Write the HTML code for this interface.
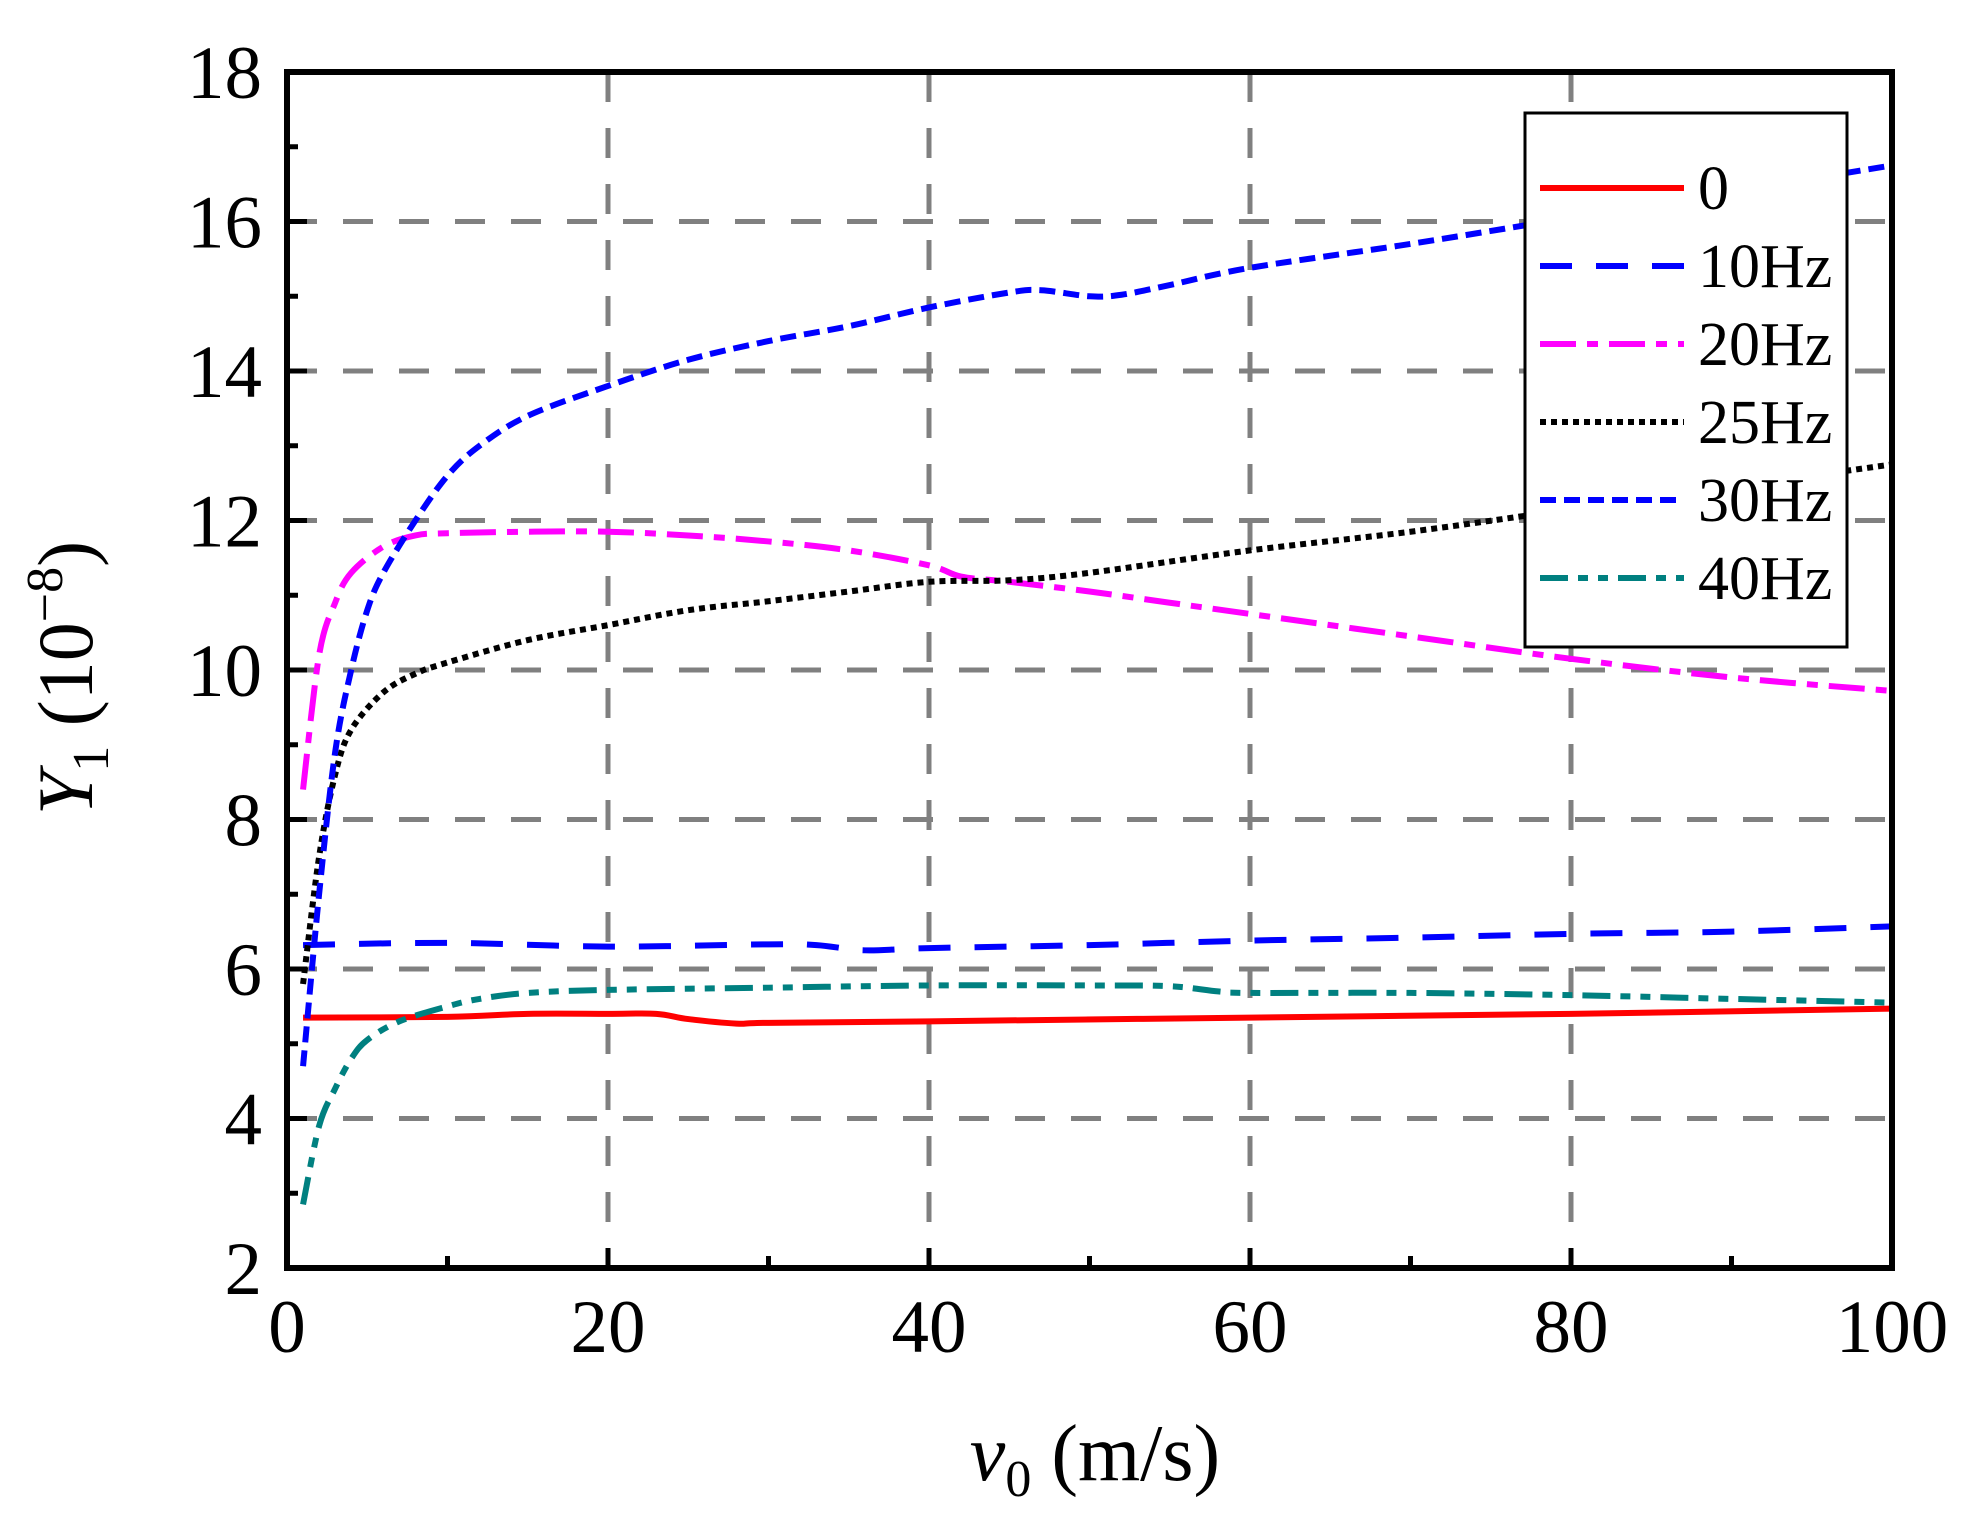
<!DOCTYPE html>
<html><head><meta charset="utf-8"><style>
body{margin:0;background:#fff}
svg text{font-family:"Liberation Serif",serif;fill:#000}
</style></head><body>
<svg id="c" width="1980" height="1510" xmlns="http://www.w3.org/2000/svg">
<g id="grid"></g>
<g id="series"></g>
<rect x="287" y="72" width="1605" height="1196" fill="none" stroke="#000" stroke-width="6"/>
<g id="ticks"></g>
<text x="1095" y="1480" font-size="80" text-anchor="middle"><tspan font-style="italic">v</tspan><tspan font-size="52" dy="16">0</tspan><tspan dy="-16">  (m/s)</tspan></text>
<text transform="translate(92,678) rotate(-90)" font-size="78" text-anchor="middle"><tspan font-style="italic">Y</tspan><tspan font-size="52" dy="16">1</tspan><tspan dy="-16"> (10</tspan><tspan font-size="52" dy="-30">−8</tspan><tspan dy="30">)</tspan></text>
<g>
<rect x="1525" y="113" width="322" height="534" fill="#fff" stroke="#000" stroke-width="3"/>
<g id="legend"></g>
</g>
</svg>
<script>
const xs0=[1,10,15,20,23,25,28,30,40,60,80,100];
const ys0=[5.35,5.36,5.4,5.4,5.4,5.33,5.27,5.28,5.3,5.35,5.4,5.47];
const xs10=[1,10,20,30,33,36,40,50,60,70,80,90,100];
const ys10=[6.32,6.35,6.3,6.33,6.32,6.25,6.28,6.32,6.38,6.42,6.47,6.5,6.57];
const xs20=[1,2,3,4,6,8,10,15,20,25,30,35,40,42,45,50,55,60,70,80,90,100];
const ys20=[8.4,10.2,10.9,11.3,11.65,11.8,11.83,11.85,11.85,11.8,11.72,11.6,11.4,11.25,11.18,11.05,10.9,10.75,10.45,10.15,9.9,9.72];
const xs25=[1,2,3,4,6,8,10,15,20,25,30,35,40,45,50,60,70,80,90,100];
const ys25=[5.8,7.5,8.6,9.2,9.7,9.95,10.1,10.4,10.6,10.8,10.92,11.05,11.18,11.2,11.3,11.6,11.85,12.15,12.45,12.75];
const xs30=[1,2,3,4,5,6,8,10,12,15,20,25,30,35,40,45,47,50,52,55,60,70,80,90,100];
const ys30=[4.7,7.0,8.9,10.0,10.8,11.3,12.0,12.6,13.0,13.4,13.8,14.15,14.4,14.6,14.85,15.05,15.08,15.0,15.02,15.15,15.38,15.7,16.05,16.4,16.75];
const xs40=[1,2,3,4,5,7,10,12,15,20,30,40,50,55,58,60,70,80,90,100];
const ys40=[2.85,3.9,4.4,4.8,5.05,5.3,5.5,5.6,5.68,5.72,5.75,5.78,5.78,5.77,5.7,5.68,5.68,5.65,5.6,5.55];
const xTicks=[0,20,40,60,80,100];
const yTicks=[2,4,6,8,10,12,14,16,18];
const labels=["0","10Hz","20Hz","25Hz","30Hz","40Hz"];

const NS="http://www.w3.org/2000/svg";
const X=v=>287+(v-0)*(1892-287)/100;
const Y=v=>1268-(v-2)*(1268-72)/16;
function mk(tag,attrs,parent){const e=document.createElementNS(NS,tag);for(const k in attrs)e.setAttribute(k,attrs[k]);parent.appendChild(e);return e;}
const grid=document.getElementById('grid'),ticks=document.getElementById('ticks'),ser=document.getElementById('series'),leg=document.getElementById('legend');
xTicks.forEach(t=>{
  if(t>0&&t<100){const l=mk('line',{x1:X(t),x2:X(t),y1:72,y2:1268,stroke:'#808080','stroke-width':5,'stroke-dasharray':'30 26'},grid);
  
  }
  const tk=mk('line',{x1:X(t),x2:X(t),y1:1268,y2:1248,stroke:'#000','stroke-width':5},ticks);
  
  
  const tx=mk('text',{x:X(t),y:1352,'font-size':75,'text-anchor':'middle'},ticks);tx.textContent=t;
  
  
});
for(let t=10;t<100;t+=20){const m=mk('line',{x1:X(t),x2:X(t),y1:1268,y2:1256,stroke:'#000','stroke-width':5},ticks);
  
  }
yTicks.forEach(t=>{
  if(t>2&&t<18){const l=mk('line',{x1:287,x2:1892,y1:Y(t),y2:Y(t),stroke:'#808080','stroke-width':5,'stroke-dasharray':'30 26'},grid);
  
  }
  const tk=mk('line',{x1:287,x2:307,y1:Y(t),y2:Y(t),stroke:'#000','stroke-width':5},ticks);
  
  
  const tx=mk('text',{x:262,y:Y(t)+26,'font-size':75,'text-anchor':'end'},ticks);tx.textContent=t;
  
  
});
for(let t=3;t<18;t+=2){const m=mk('line',{x1:287,x2:298,y1:Y(t),y2:Y(t),stroke:'#000','stroke-width':5},ticks);
  
  }
function path(xs,ys){
  const p=xs.map((x,i)=>[X(x),Y(ys[i])]);let d='M'+p[0][0]+','+p[0][1];
  for(let i=0;i<p.length-1;i++){const p0=p[Math.max(0,i-1)],p1=p[i],p2=p[i+1],p3=p[Math.min(p.length-1,i+2)];
    const c1=[p1[0]+(p2[0]-p0[0])/6,p1[1]+(p2[1]-p0[1])/6],c2=[p2[0]-(p3[0]-p1[0])/6,p2[1]-(p3[1]-p1[1])/6];
    d+=` C${c1[0]},${c1[1]} ${c2[0]},${c2[1]} ${p2[0]},${p2[1]}`;}
  return d;}
const styles=[['#ff0000',''],['#0000ff','32 24'],['#ff00ff','36 11 11 11'],['#000000','6 5'],['#0000ff','16 8'],['#008080','28 10 10 10 10 10']];
const data=[[xs0,ys0],[xs10,ys10],[xs20,ys20],[xs25,ys25],[xs30,ys30],[xs40,ys40]];
const names=['series-0','series-10hz','series-20hz','series-25hz','series-30hz','series-40hz'];
data.forEach((s,i)=>{
  const e=mk('path',{d:path(s[0],s[1]),fill:'none',stroke:styles[i][0],'stroke-width':6,'stroke-dasharray':styles[i][1]},ser);
  
  
  const yy=188+i*78;
  const l=mk('line',{x1:1540,x2:1684,y1:yy,y2:yy,stroke:styles[i][0],'stroke-width':6,'stroke-dasharray':styles[i][1]},leg);
  
  
  const t=mk('text',{x:1698,y:yy+21,'font-size':62},leg);t.textContent=labels[i];
  
  
});
</script>
</body></html>
